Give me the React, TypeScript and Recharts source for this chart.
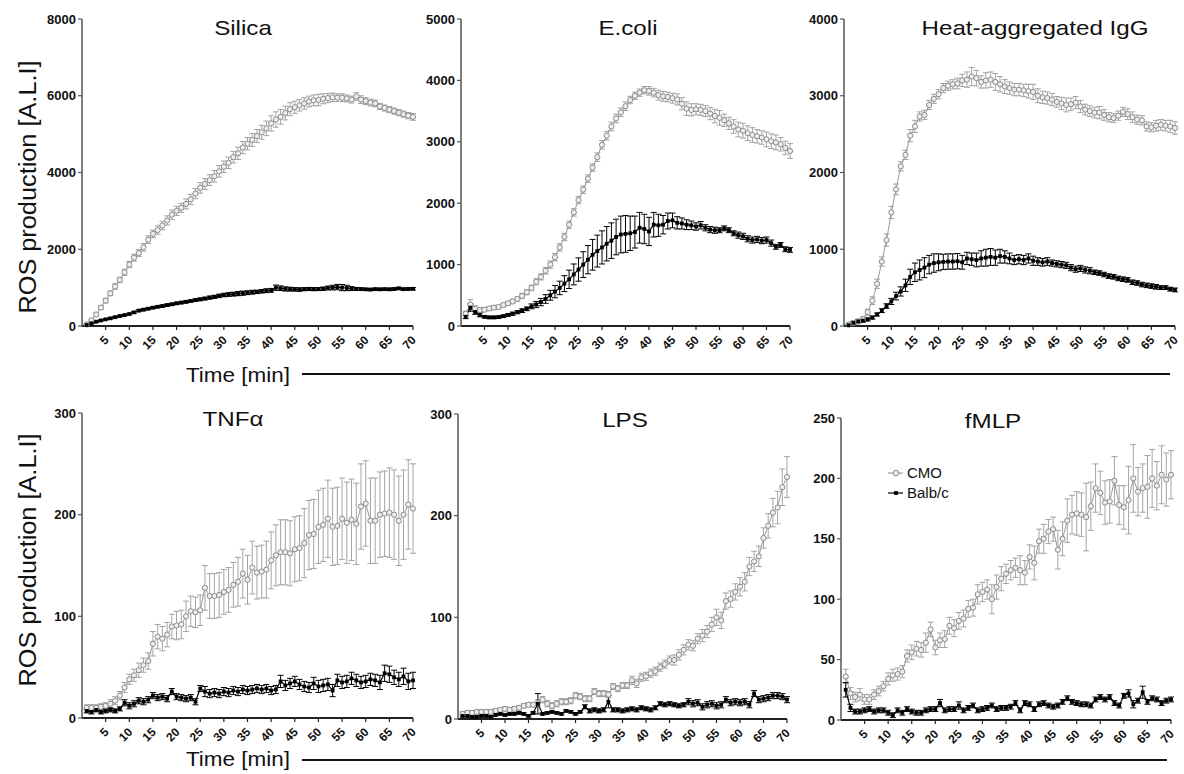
import React from "react";
import { LineChart, Line, XAxis, YAxis, ErrorBar } from "recharts";

const minutes = [
  1, 2, 3, 4, 5, 6, 7, 8, 9, 10, 11, 12, 13, 14, 15, 16, 17, 18, 19, 20,
  21, 22, 23, 24, 25, 26, 27, 28, 29, 30, 31, 32, 33, 34, 35, 36, 37, 38, 39, 40,
  41, 42, 43, 44, 45, 46, 47, 48, 49, 50, 51, 52, 53, 54, 55, 56, 57, 58, 59, 60,
  61, 62, 63, 64, 65, 66, 67, 68, 69, 70,
];
const xTicks = [5, 10, 15, 20, 25, 30, 35, 40, 45, 50, 55, 60, 65, 70];

// Silica
const silicaTicks = [0, 2000, 4000, 6000, 8000];
const silicaCmo = [
  40, 150, 300, 480, 660, 850, 1030, 1200, 1400, 1600,
  1780, 1900, 2050, 2250, 2400, 2500, 2620, 2750, 2900, 3000,
  3080, 3180, 3300, 3450, 3600, 3700, 3800, 3900, 4030, 4150,
  4250, 4400, 4500, 4650, 4750, 4850, 4950, 5050, 5150, 5280,
  5380, 5450, 5550, 5650, 5700, 5750, 5800, 5850, 5880, 5890,
  5920, 5940, 5960, 5950, 5950, 5930, 5900, 5980, 5900, 5860,
  5820, 5800, 5720, 5680, 5640, 5600, 5560, 5520, 5480, 5450,
];
const silicaCmoErr = [
  20, 30, 40, 50, 60, 60, 70, 70, 80, 80,
  90, 90, 100, 100, 100, 110, 110, 120, 120, 120,
  120, 130, 130, 130, 140, 140, 140, 150, 150, 150,
  150, 150, 160, 160, 160, 170, 170, 180, 190, 200,
  200, 190, 180, 170, 160, 150, 150, 140, 140, 150,
  130, 120, 110, 100, 100, 90, 90, 100, 100, 90,
  90, 90, 80, 80, 80, 80, 80, 80, 80, 90,
];
const silicaBalb = [
  26, 70, 112, 145, 174, 200, 230, 260, 285, 312,
  355, 400, 425, 450, 477, 500, 520, 545, 565, 590,
  610, 630, 650, 675, 695, 715, 740, 760, 785, 807,
  820, 830, 845, 855, 867, 880, 890, 905, 920, 930,
  998, 985, 965, 960, 955, 950, 960, 965, 960, 963,
  970, 990, 1000, 1015, 1000, 990, 975, 965, 960, 955,
  950, 960, 955, 960, 955, 965, 980, 960, 965, 970,
];
const silicaBalbErr = [
  10, 10, 15, 15, 15, 20, 20, 20, 20, 20,
  20, 25, 25, 25, 25, 25, 30, 30, 30, 30,
  30, 30, 30, 35, 35, 35, 40, 40, 45, 45,
  50, 50, 55, 55, 50, 50, 45, 45, 50, 50,
  70, 60, 55, 50, 45, 45, 40, 40, 40, 40,
  45, 50, 60, 70, 80, 70, 50, 40, 35, 30,
  30, 30, 30, 30, 30, 30, 30, 30, 30, 30,
];

// E.coli
const ecoliTicks = [0, 1000, 2000, 3000, 4000, 5000];
const ecoliCmo = [
  200, 350, 280, 260, 265, 285, 300, 310, 340, 370,
  400, 440, 490, 550, 620, 720, 800, 900, 1000, 1120,
  1280, 1450, 1650, 1850, 2050, 2220, 2400, 2580, 2750, 2950,
  3100, 3250, 3380, 3480, 3580, 3680, 3750, 3800, 3840, 3830,
  3800, 3760, 3740, 3730, 3710, 3690, 3620, 3540, 3520, 3530,
  3520, 3500, 3460, 3420, 3390, 3350, 3300, 3250, 3200, 3180,
  3140, 3110, 3090, 3070, 3040, 3010, 2990, 2960, 2900, 2850,
];
const ecoliCmoErr = [
  40, 80, 50, 40, 30, 30, 30, 30, 30, 30,
  35, 35, 40, 40, 45, 50, 50, 55, 60, 60,
  60, 60, 60, 60, 60, 60, 60, 60, 70, 70,
  70, 70, 70, 70, 70, 60, 60, 60, 60, 70,
  70, 80, 80, 80, 80, 90, 100, 110, 100, 90,
  90, 90, 100, 110, 120, 100, 100, 110, 120, 120,
  120, 120, 110, 110, 120, 120, 120, 110, 110, 120,
];
const ecoliBalb = [
  150, 300, 230, 180, 150, 140, 140, 145, 160, 180,
  200, 225, 250, 280, 320, 350, 390, 440, 500, 560,
  620, 690, 760, 840, 920, 1000, 1080, 1160, 1220, 1280,
  1340, 1390, 1450, 1490, 1500, 1510, 1530, 1600, 1580, 1540,
  1650, 1640, 1650, 1710, 1720, 1680, 1670, 1650, 1640, 1620,
  1640, 1600, 1570, 1560, 1560, 1590, 1560, 1510, 1480, 1460,
  1420, 1400, 1410, 1390, 1400, 1350, 1290, 1320, 1250, 1240,
];
const ecoliBalbErr = [
  30, 60, 40, 30, 20, 20, 20, 20, 20, 20,
  25, 25, 30, 30, 40, 50, 60, 70, 80, 100,
  110, 130, 150, 170, 190, 210, 230, 250, 260, 270,
  280, 290, 290, 300, 300, 280, 260, 250, 240, 230,
  200, 180, 150, 130, 120, 100, 90, 80, 70, 60,
  60, 50, 50, 50, 40, 40, 40, 40, 50, 50,
  50, 50, 50, 50, 50, 50, 40, 40, 40, 40,
];

// Heat-aggregated IgG
const iggTicks = [0, 1000, 2000, 3000, 4000];
const iggCmo = [
  20, 40, 60, 90, 180, 330, 550, 840, 1120, 1480,
  1780, 2080, 2230, 2480, 2600, 2730, 2750, 2880, 2960, 3020,
  3100, 3130, 3150, 3160, 3200, 3210, 3250, 3230, 3180, 3200,
  3210, 3180, 3150, 3120, 3100, 3080, 3080, 3070, 3060, 3050,
  3000, 2980, 2970, 2950, 2920, 2900, 2880, 2890, 2910, 2860,
  2820, 2800, 2780, 2780, 2750, 2720, 2710, 2740, 2790, 2760,
  2720, 2690, 2680, 2600, 2590, 2610, 2620, 2610, 2600, 2580,
];
const iggCmoErr = [
  20, 30, 30, 30, 40, 50, 60, 60, 80, 80,
  70, 60, 60, 80, 80, 60, 60, 60, 60, 60,
  60, 60, 60, 70, 80, 100, 120, 100, 80, 100,
  100, 110, 100, 90, 80, 80, 80, 80, 90, 100,
  90, 80, 80, 80, 70, 80, 90, 80, 80, 80,
  70, 70, 70, 80, 70, 60, 60, 60, 60, 70,
  70, 60, 60, 60, 60, 70, 70, 70, 80, 80,
];
const iggBalb = [
  10, 40, 60, 70, 85, 110, 150, 200, 260, 320,
  390, 450, 530, 640, 700, 730, 760, 800, 820, 830,
  835, 840, 840, 845, 830, 880, 870, 860, 880, 890,
  900, 890, 910, 900, 880, 860, 870, 860, 880, 850,
  840, 830, 840, 820, 810, 800, 790, 760, 740, 750,
  730, 720, 700, 690, 670, 650, 640, 620, 610, 600,
  570, 560, 540, 530, 520, 510, 500, 500, 480, 470,
];
const iggBalbErr = [
  10, 15, 20, 20, 20, 20, 20, 25, 30, 40,
  50, 60, 80, 100, 120, 130, 130, 120, 120, 110,
  100, 100, 100, 100, 90, 80, 80, 90, 100, 110,
  110, 100, 90, 80, 70, 60, 60, 60, 60, 60,
  50, 50, 50, 40, 40, 40, 40, 40, 40, 40,
  40, 40, 30, 30, 30, 30, 30, 30, 30, 30,
  30, 30, 30, 30, 30, 30, 25, 25, 25, 25,
];

// TNFα
const tnfTicks = [0, 100, 200, 300];
const tnfCmo = [
  10, 10, 10, 11, 12, 14, 17, 22, 30, 38,
  42, 47, 52, 56, 73, 80, 78, 82, 90, 91,
  92, 100, 105, 104, 106, 128, 120, 120, 121, 124,
  126, 131, 134, 142, 136, 148, 143, 144, 146, 155,
  160, 163, 163, 162, 166, 167, 172, 180, 181, 188,
  190, 196, 188, 189, 196, 192, 195, 191, 208, 211,
  194, 194, 200, 201, 202, 200, 194, 200, 210, 206,
];
const tnfCmoErr = [
  3, 3, 3, 3, 3, 4, 4, 4, 5, 5,
  6, 7, 7, 8, 12, 12, 12, 12, 12, 14,
  14, 15, 15, 15, 15, 22, 22, 22, 22, 22,
  22, 22, 24, 24, 24, 26, 26, 26, 28, 28,
  30, 32, 32, 32, 32, 32, 34, 34, 34, 36,
  36, 38, 38, 38, 40, 40, 40, 40, 42, 42,
  42, 42, 42, 42, 44, 44, 44, 44, 44, 44,
];
const tnfBalb = [
  7, 6, 8, 6, 7, 8, 7, 9, 15, 12,
  14, 17, 16, 18, 22, 20, 21, 19, 26, 21,
  20, 19, 20, 16, 29, 26, 24, 25, 24, 26,
  25, 27, 26, 28, 27, 28, 29, 28, 29, 27,
  28, 36, 32, 34, 36, 33, 31, 30, 34, 31,
  32, 33, 27, 37, 35, 36, 39, 37, 35, 36,
  38, 37, 35, 44, 43, 40, 38, 41, 36, 37,
];
const tnfBalbErr = [
  2, 2, 2, 2, 2, 2, 2, 2, 3, 3,
  3, 3, 3, 3, 3, 3, 3, 3, 3, 3,
  3, 3, 3, 3, 3, 5, 4, 4, 4, 4,
  4, 4, 4, 4, 4, 4, 4, 4, 4, 4,
  4, 6, 5, 5, 5, 5, 5, 5, 6, 6,
  6, 6, 6, 6, 6, 6, 6, 6, 6, 6,
  6, 6, 7, 8, 8, 7, 7, 8, 8, 8,
];

// LPS
const lpsTicks = [0, 100, 200, 300];
const lpsCmo = [
  5, 6, 6, 7, 7, 7, 7, 8, 9, 10,
  9, 10, 11, 13, 14, 14, 16, 19, 15, 13,
  15, 17, 17, 18, 23, 22, 20, 20, 27, 25,
  25, 24, 32, 30, 33, 33, 38, 35, 41, 42,
  45, 47, 51, 54, 58, 58, 63, 68, 73, 72,
  79, 82, 86, 93, 100, 97, 116, 118, 125, 130,
  135, 150, 155, 160, 178, 190, 203, 208, 228, 238,
];
const lpsCmoErr = [
  2, 2, 2, 2, 2, 2, 2, 2, 2, 2,
  2, 2, 2, 2, 2, 2, 3, 3, 3, 3,
  3, 3, 3, 3, 3, 3, 3, 3, 3, 3,
  3, 3, 3, 3, 3, 3, 4, 4, 4, 4,
  4, 4, 4, 4, 4, 5, 5, 5, 5, 5,
  5, 6, 6, 7, 8, 8, 8, 8, 8, 9,
  9, 9, 10, 10, 10, 12, 14, 16, 18, 20,
];
const lpsBalb = [
  3, 3, 2, 2, 3, 3, 2, 4, 5, 4,
  5, 5, 6, 5, 3, 6, 15, 5, 6, 7,
  6, 5, 8, 7, 5, 7, 12, 8, 9, 8,
  9, 17, 9, 9, 8, 9, 10, 9, 11, 10,
  9, 11, 15, 14, 15, 14, 13, 14, 17, 15,
  16, 12, 14, 15, 13, 14, 19, 16, 17, 16,
  17, 14, 25, 19, 20, 21, 23, 23, 22, 19,
];
const lpsBalbErr = [
  1, 1, 1, 1, 1, 1, 1, 1, 1, 1,
  1, 1, 1, 1, 1, 1, 10, 1, 1, 1,
  1, 1, 1, 1, 1, 1, 2, 2, 2, 2,
  2, 6, 2, 2, 2, 2, 2, 2, 2, 2,
  2, 2, 2, 2, 2, 2, 2, 2, 3, 3,
  3, 3, 3, 3, 3, 3, 3, 3, 3, 3,
  3, 3, 3, 3, 3, 3, 3, 3, 3, 3,
];

// fMLP
const fmlpTicks = [0, 50, 100, 150, 200, 250];
const fmlpCmo = [
  36, 22, 19, 21, 17, 17, 21, 24, 28, 34,
  37, 38, 40, 53, 56, 59, 58, 64, 75, 60,
  66, 67, 78, 76, 82, 84, 92, 93, 104, 106,
  108, 100, 110, 117, 121, 124, 126, 124, 122, 135,
  130, 148, 150, 156, 158, 141, 150, 165, 170, 171,
  170, 168, 177, 192, 188, 180, 181, 198, 178, 176,
  182, 200, 189, 192, 193, 200, 194, 203, 199, 203,
];
const fmlpCmoErr = [
  6, 5, 4, 5, 4, 4, 4, 4, 4, 5,
  5, 5, 5, 5, 6, 6, 6, 8, 6, 6,
  6, 7, 7, 7, 7, 7, 7, 7, 8, 8,
  8, 12, 10, 10, 8, 8, 8, 12, 10, 10,
  14, 10, 12, 10, 10, 16, 14, 18, 16, 18,
  18, 28, 20, 20, 18, 18, 18, 20, 16, 18,
  28, 28, 20, 20, 26, 24, 20, 24, 22, 20,
];
const fmlpBalb = [
  25, 10, 7, 7, 8, 9, 7, 8, 8, 6,
  4, 8, 6, 9, 7, 6, 6, 8, 9, 9,
  14, 8, 9, 9, 12, 8, 10, 12, 8, 9,
  10, 12, 9, 10, 10, 11, 14, 8, 14, 13,
  9, 13, 14, 12, 11, 12, 15, 18, 15, 14,
  13, 13, 12, 17, 19, 17, 19, 14, 12, 20,
  22, 13, 16, 23, 15, 18, 17, 14, 16, 17,
];
const fmlpBalbErr = [
  6, 3, 2, 2, 2, 2, 2, 2, 2, 2,
  2, 2, 2, 2, 2, 2, 2, 2, 2, 2,
  3, 2, 2, 2, 3, 2, 2, 2, 2, 2,
  2, 2, 2, 2, 2, 2, 2, 2, 2, 2,
  2, 2, 2, 2, 2, 2, 2, 2, 2, 2,
  2, 2, 2, 2, 2, 2, 2, 2, 2, 2,
  3, 3, 2, 5, 2, 2, 2, 2, 2, 2,
];

type Row = { t: number; cmo: number; cmoErr: number; balb: number; balbErr: number };

function buildRows(cmo: number[], cmoErr: number[], balb: number[], balbErr: number[]): Row[] {
  return minutes.map((t, i) => ({ t, cmo: cmo[i], cmoErr: cmoErr[i], balb: balb[i], balbErr: balbErr[i] }));
}

const FONT = "'Liberation Sans', Arial, Helvetica, sans-serif";
const GRAY = "#9a9a9a";

const panels = [
  { title: "Silica", rows: buildRows(silicaCmo, silicaCmoErr, silicaBalb, silicaBalbErr), yTicks: silicaTicks, box: { left: 82, top: 19, right: 413, bottom: 326 }, titleX: 243, titleY: 27 },
  { title: "E.coli", rows: buildRows(ecoliCmo, ecoliCmoErr, ecoliBalb, ecoliBalbErr), yTicks: ecoliTicks, box: { left: 461, top: 19, right: 790, bottom: 326 }, titleX: 628, titleY: 27 },
  { title: "Heat-aggregated IgG", rows: buildRows(iggCmo, iggCmoErr, iggBalb, iggBalbErr), yTicks: iggTicks, box: { left: 844, top: 19, right: 1175, bottom: 326 }, titleX: 1035, titleY: 27 },
  { title: "TNFα", rows: buildRows(tnfCmo, tnfCmoErr, tnfBalb, tnfBalbErr), yTicks: tnfTicks, box: { left: 82, top: 413, right: 413, bottom: 718 }, titleX: 233, titleY: 418 },
  { title: "LPS", rows: buildRows(lpsCmo, lpsCmoErr, lpsBalb, lpsBalbErr), yTicks: lpsTicks, box: { left: 458, top: 414, right: 787, bottom: 719 }, titleX: 625, titleY: 419 },
  { title: "fMLP", rows: buildRows(fmlpCmo, fmlpCmoErr, fmlpBalb, fmlpBalbErr), yTicks: fmlpTicks, box: { left: 841, top: 418, right: 1171, bottom: 720 }, titleX: 993, titleY: 420 },
];

function XTick(props: any) {
  const { x, y, payload } = props;
  return (
    <g transform={`translate(${x + 1},${y + 6}) rotate(-45)`}>
      <text textAnchor="end" dominantBaseline="central" fontSize={12} fontWeight={700} fill="#111" fontFamily={FONT}>
        {payload.value}
      </text>
    </g>
  );
}

function YTick(props: any) {
  const { x, y, payload } = props;
  return (
    <text x={x} y={y} textAnchor="end" dominantBaseline="central" fontSize={13} fontWeight={700} fill="#111" fontFamily={FONT}>
      {payload.value}
    </text>
  );
}

const squareDot = (props: any) => {
  const { cx, cy, index } = props;
  if (cx == null || cy == null) return <g key={`s${index}`} />;
  return <rect key={`s${index}`} x={cx - 1.9} y={cy - 1.9} width={3.8} height={3.8} fill="#000" />;
};

function Panel({ p }: { p: (typeof panels)[number] }) {
  const { box } = p;
  const w = box.right - box.left + 72;
  const h = box.bottom - box.top + 50;
  const yMax = p.yTicks[p.yTicks.length - 1];
  return (
    <div style={{ position: "absolute", left: box.left - 60, top: box.top - 10, width: w, height: h }}>
      <LineChart width={w} height={h} data={p.rows} margin={{ top: 10, right: 12, bottom: 0, left: 0 }}>
        <XAxis
          dataKey="t"
          type="number"
          domain={[0, 70]}
          ticks={xTicks}
          interval={0}
          height={40}
          tickSize={4}
          tick={<XTick />}
          axisLine={{ stroke: "#222", strokeWidth: 1.8 }}
          tickLine={{ stroke: "#222", strokeWidth: 1.2 }}
        />
        <YAxis
          type="number"
          domain={[0, yMax]}
          ticks={p.yTicks}
          interval={0}
          width={60}
          tickSize={4}
          tick={<YTick />}
          axisLine={{ stroke: "#555", strokeWidth: 1.5 }}
          tickLine={{ stroke: "#555", strokeWidth: 1.2 }}
        />
        <Line
          type="linear"
          dataKey="cmo"
          stroke={GRAY}
          strokeWidth={1}
          dot={{ r: 2.6, stroke: "#8a8a8a", strokeWidth: 1, fill: "#eeeeee" }}
          activeDot={false}
          isAnimationActive={false}
        >
          <ErrorBar dataKey="cmoErr" width={3} stroke={GRAY} strokeWidth={0.9} direction="y" isAnimationActive={false} />
        </Line>
        <Line
          type="linear"
          dataKey="balb"
          stroke="#000"
          strokeWidth={1.2}
          dot={squareDot}
          activeDot={false}
          isAnimationActive={false}
        >
          <ErrorBar dataKey="balbErr" width={3} stroke="#000" strokeWidth={1} direction="y" isAnimationActive={false} />
        </Line>
      </LineChart>
    </div>
  );
}

const textBase: React.CSSProperties = {
  position: "absolute",
  fontFamily: FONT,
  color: "#111",
  whiteSpace: "nowrap",
  lineHeight: 1,
};

function Label({ x, y, size, text, stretch = 1.1, rotate = 0, left = false }: any) {
  const tr = left
    ? `translate(0,-50%) scaleX(${stretch})`
    : `translate(-50%,-50%) rotate(${rotate}deg) scaleX(${stretch})`;
  return (
    <div style={{ ...textBase, left: x, top: y, fontSize: size, transform: tr, transformOrigin: left ? "left center" : "center" }}>
      {text}
    </div>
  );
}

export default function App() {
  return (
    <div style={{ position: "absolute", left: 0, top: 0, width: 1184, height: 774, background: "#fff", overflow: "hidden" }}>
      {panels.map((p) => (
        <Panel key={p.title} p={p} />
      ))}
      {panels.map((p) => (
        <Label key={`t-${p.title}`} x={p.titleX} y={p.titleY} size={21} text={p.title} stretch={1.15} />
      ))}
      <Label x={28} y={187} size={23} text="ROS production [A.L.I]" rotate={-90} stretch={1.1} />
      <Label x={28} y={560} size={23} text="ROS production [A.L.I]" rotate={-90} stretch={1.1} />
      <Label x={238} y={374} size={21} text="Time [min]" stretch={1.07} />
      <Label x={238} y={758} size={21} text="Time [min]" stretch={1.07} />
      <div style={{ position: "absolute", left: 302, top: 373, width: 868, height: 1.5, background: "#111" }} />
      <div style={{ position: "absolute", left: 302, top: 759, width: 865, height: 1.5, background: "#111" }} />
      <svg style={{ position: "absolute", left: 880, top: 462, overflow: "visible" }} width={30} height={40}>
        <line x1={8} y1={11} x2={23} y2={11} stroke={GRAY} strokeWidth={1.2} />
        <circle cx={16} cy={11} r={2.8} stroke="#8a8a8a" strokeWidth={1} fill="#eeeeee" />
        <line x1={8} y1={31} x2={23} y2={31} stroke="#000" strokeWidth={1.2} />
        <rect x={14.1} y={29.1} width={3.8} height={3.8} fill="#000" />
      </svg>
      <Label x={907} y={473} size={14} text="CMO" stretch={1.07} left />
      <Label x={907} y={493} size={14} text="Balb/c" stretch={1.07} left />
    </div>
  );
}
